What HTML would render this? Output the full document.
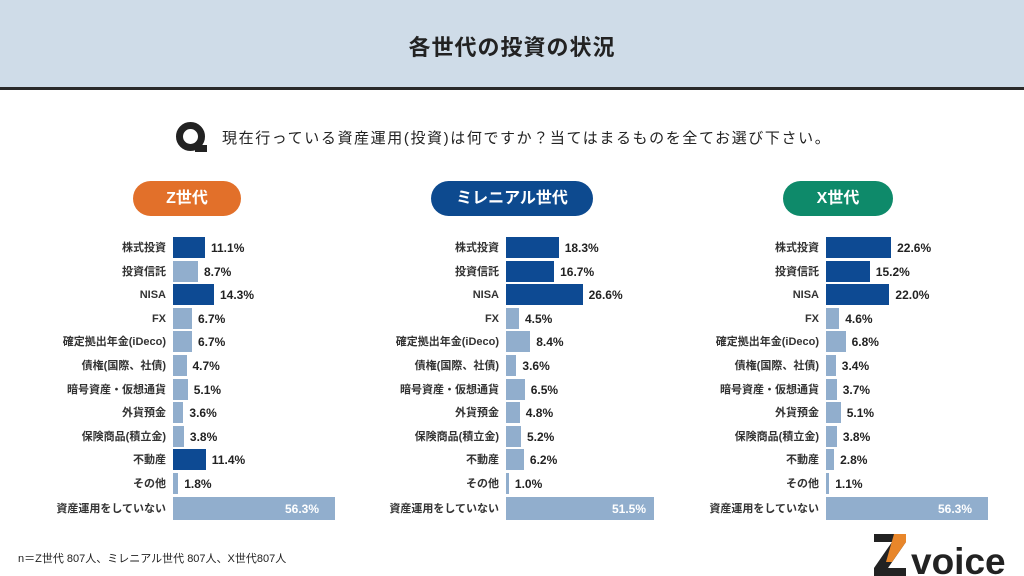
<!DOCTYPE html><html><head><meta charset="utf-8"><style>
*{margin:0;padding:0;box-sizing:border-box}
body{width:1024px;height:576px;background:#fff;position:relative;overflow:hidden;font-family:"Liberation Sans","Noto Sans CJK JP",sans-serif;color:#222}
.hd{position:absolute;left:0;top:0;width:1024px;height:90px;background:#cfdce8;border-bottom:3px solid #2a2a2a}
.hd div{position:absolute;left:0;right:0;top:30px;text-align:center;font-size:22px;font-weight:bold;letter-spacing:1px;color:#222}
.q{position:absolute;left:176px;top:122px;width:29px;height:29px;border-radius:50%;border:7px solid #222}
.q:after{content:"";position:absolute;right:-9px;bottom:-8px;width:12px;height:7px;background:#222}
.qt{position:absolute;left:222px;top:127px;font-size:15px;letter-spacing:1.6px}
.pill{position:absolute;top:181px;height:35px;border-radius:18px;color:#fff;font-size:16px;font-weight:bold;text-align:center;line-height:35px}
.row{position:absolute;height:21px}
.lb{position:absolute;right:0;top:1px;height:21px;line-height:21px;font-size:11px;white-space:nowrap;font-weight:bold;color:#333}
.bar{position:absolute;left:0;top:0;height:21px}
.d{background:#0d4a93}.l{background:#91aecd}
.v{position:absolute;top:1px;height:21px;line-height:21px;font-size:12px;font-weight:bold;white-space:nowrap;color:#222}
.in{position:absolute;top:1px;height:23px;line-height:23px;font-size:12px;font-weight:bold;color:#fff}
.ft{position:absolute;left:18px;top:550px;font-size:11px}
</style></head><body>
<div class="hd"><div>各世代の投資の状況</div></div>
<div class="q"></div>
<div class="qt">現在行っている資産運用(投資)は何ですか？当てはまるものを全てお選び下さい。</div>
<div class="pill" style="left:133px;width:108px;background:#e2702a">Z世代</div>
<div class="pill" style="left:431px;width:162px;background:#0d4a8f">ミレニアル世代</div>
<div class="pill" style="left:783px;width:110px;background:#0e8a6a">X世代</div>

<div style="position:absolute;left:0;top:0">
<div class="row" style="left:0;width:166px;top:237px"><span class="lb">株式投資</span></div>
<div class="row" style="left:0;width:166px;top:260.6px"><span class="lb">投資信託</span></div>
<div class="row" style="left:0;width:166px;top:284.2px"><span class="lb">NISA</span></div>
<div class="row" style="left:0;width:166px;top:307.8px"><span class="lb">FX</span></div>
<div class="row" style="left:0;width:166px;top:331.4px"><span class="lb">確定拠出年金(iDeco)</span></div>
<div class="row" style="left:0;width:166px;top:355px"><span class="lb">債権(国際、社債)</span></div>
<div class="row" style="left:0;width:166px;top:378.6px"><span class="lb">暗号資産・仮想通貨</span></div>
<div class="row" style="left:0;width:166px;top:402.2px"><span class="lb">外貨預金</span></div>
<div class="row" style="left:0;width:166px;top:425.8px"><span class="lb">保険商品(積立金)</span></div>
<div class="row" style="left:0;width:166px;top:449.4px"><span class="lb">不動産</span></div>
<div class="row" style="left:0;width:166px;top:473px"><span class="lb">その他</span></div>
<div class="row" style="left:0;width:166px;top:498px"><span class="lb">資産運用をしていない</span></div>
</div>
<div style="position:absolute;left:333px;top:0">
<div class="row" style="left:0;width:166px;top:237px"><span class="lb">株式投資</span></div>
<div class="row" style="left:0;width:166px;top:260.6px"><span class="lb">投資信託</span></div>
<div class="row" style="left:0;width:166px;top:284.2px"><span class="lb">NISA</span></div>
<div class="row" style="left:0;width:166px;top:307.8px"><span class="lb">FX</span></div>
<div class="row" style="left:0;width:166px;top:331.4px"><span class="lb">確定拠出年金(iDeco)</span></div>
<div class="row" style="left:0;width:166px;top:355px"><span class="lb">債権(国際、社債)</span></div>
<div class="row" style="left:0;width:166px;top:378.6px"><span class="lb">暗号資産・仮想通貨</span></div>
<div class="row" style="left:0;width:166px;top:402.2px"><span class="lb">外貨預金</span></div>
<div class="row" style="left:0;width:166px;top:425.8px"><span class="lb">保険商品(積立金)</span></div>
<div class="row" style="left:0;width:166px;top:449.4px"><span class="lb">不動産</span></div>
<div class="row" style="left:0;width:166px;top:473px"><span class="lb">その他</span></div>
<div class="row" style="left:0;width:166px;top:498px"><span class="lb">資産運用をしていない</span></div>
</div>
<div style="position:absolute;left:653px;top:0">
<div class="row" style="left:0;width:166px;top:237px"><span class="lb">株式投資</span></div>
<div class="row" style="left:0;width:166px;top:260.6px"><span class="lb">投資信託</span></div>
<div class="row" style="left:0;width:166px;top:284.2px"><span class="lb">NISA</span></div>
<div class="row" style="left:0;width:166px;top:307.8px"><span class="lb">FX</span></div>
<div class="row" style="left:0;width:166px;top:331.4px"><span class="lb">確定拠出年金(iDeco)</span></div>
<div class="row" style="left:0;width:166px;top:355px"><span class="lb">債権(国際、社債)</span></div>
<div class="row" style="left:0;width:166px;top:378.6px"><span class="lb">暗号資産・仮想通貨</span></div>
<div class="row" style="left:0;width:166px;top:402.2px"><span class="lb">外貨預金</span></div>
<div class="row" style="left:0;width:166px;top:425.8px"><span class="lb">保険商品(積立金)</span></div>
<div class="row" style="left:0;width:166px;top:449.4px"><span class="lb">不動産</span></div>
<div class="row" style="left:0;width:166px;top:473px"><span class="lb">その他</span></div>
<div class="row" style="left:0;width:166px;top:498px"><span class="lb">資産運用をしていない</span></div>
</div>

<div style="position:absolute;left:173px;top:0">
<div class="row" style="top:237px"><div class="bar d" style="width:32px"></div><span class="v" style="left:38px">11.1%</span></div>
<div class="row" style="top:260.6px"><div class="bar l" style="width:25px"></div><span class="v" style="left:31px">8.7%</span></div>
<div class="row" style="top:284.2px"><div class="bar d" style="width:41px"></div><span class="v" style="left:47px">14.3%</span></div>
<div class="row" style="top:307.8px"><div class="bar l" style="width:19px"></div><span class="v" style="left:25px">6.7%</span></div>
<div class="row" style="top:331.4px"><div class="bar l" style="width:19px"></div><span class="v" style="left:25px">6.7%</span></div>
<div class="row" style="top:355px"><div class="bar l" style="width:13.5px"></div><span class="v" style="left:19.5px">4.7%</span></div>
<div class="row" style="top:378.6px"><div class="bar l" style="width:14.7px"></div><span class="v" style="left:20.7px">5.1%</span></div>
<div class="row" style="top:402.2px"><div class="bar l" style="width:10.4px"></div><span class="v" style="left:16.4px">3.6%</span></div>
<div class="row" style="top:425.8px"><div class="bar l" style="width:10.9px"></div><span class="v" style="left:16.9px">3.8%</span></div>
<div class="row" style="top:449.4px"><div class="bar d" style="width:32.8px"></div><span class="v" style="left:38.8px">11.4%</span></div>
<div class="row" style="top:473px"><div class="bar l" style="width:5.2px"></div><span class="v" style="left:11.2px">1.8%</span></div>
<div class="row" style="top:497px"><div class="bar l" style="width:162px;height:23px"></div><span class="in" style="left:112px">56.3%</span></div>
</div>
<div style="position:absolute;left:506px;top:0">
<div class="row" style="top:237px"><div class="bar d" style="width:52.7px"></div><span class="v" style="left:58.7px">18.3%</span></div>
<div class="row" style="top:260.6px"><div class="bar d" style="width:48.1px"></div><span class="v" style="left:54.1px">16.7%</span></div>
<div class="row" style="top:284.2px"><div class="bar d" style="width:76.6px"></div><span class="v" style="left:82.6px">26.6%</span></div>
<div class="row" style="top:307.8px"><div class="bar l" style="width:13px"></div><span class="v" style="left:19px">4.5%</span></div>
<div class="row" style="top:331.4px"><div class="bar l" style="width:24.2px"></div><span class="v" style="left:30.2px">8.4%</span></div>
<div class="row" style="top:355px"><div class="bar l" style="width:10.4px"></div><span class="v" style="left:16.4px">3.6%</span></div>
<div class="row" style="top:378.6px"><div class="bar l" style="width:18.7px"></div><span class="v" style="left:24.7px">6.5%</span></div>
<div class="row" style="top:402.2px"><div class="bar l" style="width:13.8px"></div><span class="v" style="left:19.8px">4.8%</span></div>
<div class="row" style="top:425.8px"><div class="bar l" style="width:15px"></div><span class="v" style="left:21px">5.2%</span></div>
<div class="row" style="top:449.4px"><div class="bar l" style="width:17.9px"></div><span class="v" style="left:23.9px">6.2%</span></div>
<div class="row" style="top:473px"><div class="bar l" style="width:2.9px"></div><span class="v" style="left:8.9px">1.0%</span></div>
<div class="row" style="top:497px"><div class="bar l" style="width:148.3px;height:23px"></div><span class="in" style="left:106px">51.5%</span></div>
</div>
<div style="position:absolute;left:826px;top:0">
<div class="row" style="top:237px"><div class="bar d" style="width:65.1px"></div><span class="v" style="left:71.1px">22.6%</span></div>
<div class="row" style="top:260.6px"><div class="bar d" style="width:43.8px"></div><span class="v" style="left:49.8px">15.2%</span></div>
<div class="row" style="top:284.2px"><div class="bar d" style="width:63.4px"></div><span class="v" style="left:69.4px">22.0%</span></div>
<div class="row" style="top:307.8px"><div class="bar l" style="width:13.2px"></div><span class="v" style="left:19.2px">4.6%</span></div>
<div class="row" style="top:331.4px"><div class="bar l" style="width:19.6px"></div><span class="v" style="left:25.6px">6.8%</span></div>
<div class="row" style="top:355px"><div class="bar l" style="width:9.8px"></div><span class="v" style="left:15.8px">3.4%</span></div>
<div class="row" style="top:378.6px"><div class="bar l" style="width:10.7px"></div><span class="v" style="left:16.7px">3.7%</span></div>
<div class="row" style="top:402.2px"><div class="bar l" style="width:14.7px"></div><span class="v" style="left:20.7px">5.1%</span></div>
<div class="row" style="top:425.8px"><div class="bar l" style="width:10.9px"></div><span class="v" style="left:16.9px">3.8%</span></div>
<div class="row" style="top:449.4px"><div class="bar l" style="width:8.1px"></div><span class="v" style="left:14.1px">2.8%</span></div>
<div class="row" style="top:473px"><div class="bar l" style="width:3.2px"></div><span class="v" style="left:9.2px">1.1%</span></div>
<div class="row" style="top:497px"><div class="bar l" style="width:162px;height:23px"></div><span class="in" style="left:112px">56.3%</span></div>
</div>

<div class="ft">n＝Z世代 807人、ミレニアル世代 807人、X世代807人</div>
<svg style="position:absolute;left:872px;top:532px" width="152" height="44">
<polygon points="2,2 34,2 34,10 16,36 34,36 34,44 2,44 2,36 20,10 2,10" fill="#222"/>
<polygon points="22,2 34,2 34,10 20,30 14,30" fill="#e8862a"/>
<text x="39" y="42" font-family="Liberation Sans,sans-serif" font-weight="bold" font-size="37" fill="#222">voice</text>
</svg>
</body></html>
